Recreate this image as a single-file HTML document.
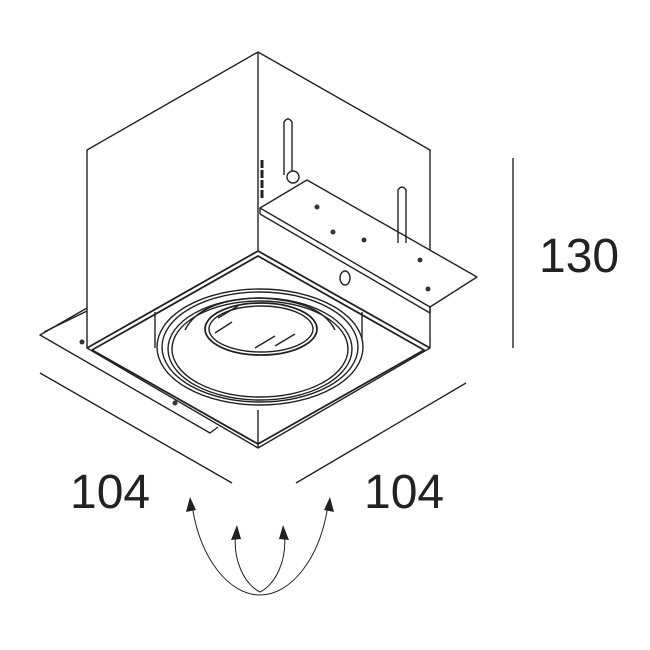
<!DOCTYPE html>
<html><head><style>body{margin:0;background:#fff}svg{display:block}</style></head><body>
<svg width="650" height="650" viewBox="0 0 650 650" xmlns="http://www.w3.org/2000/svg" fill="none" stroke="#222" stroke-width="1.4" stroke-linejoin="round">
<rect width="650" height="650" fill="#fff" stroke="none"/>
<polyline points="87,308 40,335 210,433 218,427"/>
<line x1="44" y1="332" x2="87" y2="311"/>
<polygon points="87,150 258,52 430,150 430,348 258,448 87,348" fill="#fff"/>
<line x1="258" y1="52" x2="258" y2="251"/>
<polyline points="87,348 258,251 430,348" stroke-width="1.8"/>
<polyline points="92,350 258,256 424,350 258,444 92,350" stroke-width="1.8"/>
<line x1="258" y1="410" x2="258" y2="448"/>
<line x1="155" y1="312" x2="155" y2="348"/>
<line x1="362" y1="312" x2="362" y2="348"/>
<ellipse cx="260" cy="347" rx="103" ry="58" fill="#fff"/>
<ellipse cx="260" cy="347" rx="98" ry="55"/>
<ellipse cx="260" cy="349" rx="92" ry="51"/>
<ellipse cx="260" cy="349" rx="88" ry="48"/>
<path d="M185,330 Q200,300 258,298 Q320,300 335,330"/>
<ellipse cx="261" cy="329" rx="56" ry="26" stroke-width="1.8"/>
<ellipse cx="261" cy="329" rx="52" ry="23"/>
<line x1="218" y1="318" x2="238" y2="306"/><line x1="215" y1="333" x2="232" y2="322"/>
<line x1="255" y1="348" x2="275" y2="336"/><line x1="275" y1="346" x2="295" y2="334"/>
<polygon points="260,208 307,180 477,277 430,307 260,208" fill="#fff"/>
<line x1="260" y1="208" x2="260" y2="214"/>
<line x1="260" y1="214" x2="430" y2="313"/>
<line x1="430" y1="307" x2="430" y2="313"/>
<path d="M284,175 V122 Q288,116 292,122 V175"/>
<path d="M398,243 V190 Q402,184 406,190 V243"/>
<circle cx="293" cy="177" r="6" fill="#fff"/>
<ellipse cx="345" cy="278" rx="5" ry="7"/>
<path d="M262,160 v8 M262,170 v8 M262,180 v8 M262,190 v8" stroke-width="3"/>
<g fill="#333" stroke="none">
<circle cx="317" cy="207" r="2.5"/><circle cx="333" cy="232" r="2.5"/><circle cx="364" cy="240" r="2.5"/>
<circle cx="420" cy="260" r="2.5"/><circle cx="428" cy="289" r="2.5"/><circle cx="82" cy="342" r="2.5"/><circle cx="175" cy="403" r="2.5"/>
</g>
<line x1="40" y1="373" x2="232" y2="483"/>
<line x1="296" y1="483" x2="466" y2="383"/>
<line x1="513" y1="158" x2="513" y2="348"/>
<g fill="#222" stroke="none" font-family="Liberation Sans, sans-serif" font-size="48">
<text x="70" y="508">104</text>
<text x="364" y="508">104</text>
<text x="539" y="272">130</text>
</g>
<path d="M192,505 C200,560 230,595 260,595 C290,595 320,560 328,505" stroke-width="1"/>
<path d="M236,532 C232,560 245,585 260,592 C275,585 288,560 284,532" stroke-width="1"/>
<g fill="#222" stroke="none">
<polygon points="190,497 186,512 196,510"/>
<polygon points="330,497 334,512 324,510"/>
<polygon points="237,525 231,540 241,539"/>
<polygon points="283,525 289,540 279,539"/>
</g>
</svg>
</body></html>
